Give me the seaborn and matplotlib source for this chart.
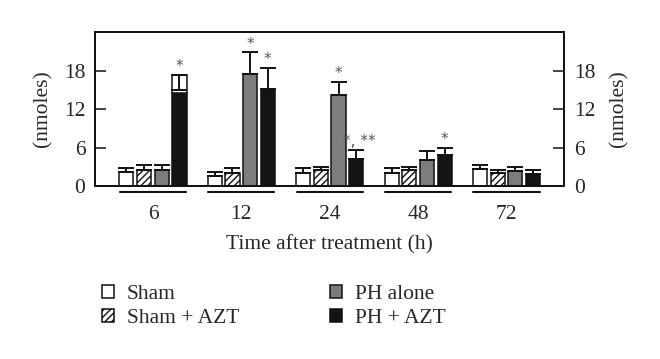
import numpy as np
import pandas as pd
import seaborn as sns
import matplotlib.pyplot as plt
from matplotlib.patches import Patch

# Data
TIMES = ["6", "12", "24", "48", "72"]
GROUPS = ["Sham", "Sham + AZT", "PH alone", "PH + AZT"]

sham = [2.15, 1.5, 2.1, 2.1, 2.6]
sham_err = [0.65, 0.65, 0.65, 0.65, 0.7]
sham_azt = [2.45, 2.05, 2.45, 2.45, 2.1]
sham_azt_err = [0.75, 0.75, 0.55, 0.55, 0.4]
ph_alone = [2.45, 17.55, 14.15, 4.05, 2.4]
ph_alone_err = [0.85, 3.35, 2.1, 1.4, 0.55]
ph_azt = [14.5, 15.1, 4.25, 4.85, 1.9]
ph_azt_err = [0.0, 3.35, 1.4, 1.1, 0.6]

# 6 h PH + AZT: open box drawn up to 17.4 with a downward bar to 15.0
ph_azt_6h_top = 17.4
ph_azt_6h_low = 15.0

# significance marks: (time index, group index, label)
SIG_MARKS = [(0, 3, "*"), (1, 2, "*"), (1, 3, "*"), (2, 2, "*"),
             (2, 3, "*, **"), (3, 3, "*")]

means = [sham, sham_azt, ph_alone, ph_azt]
errs = [sham_err, sham_azt_err, ph_alone_err, ph_azt_err]

df = pd.DataFrame({
    "time": np.tile(TIMES, len(GROUPS)),
    "group": np.repeat(GROUPS, len(TIMES)),
    "value": np.concatenate(means),
})

sns.set_style("white")
plt.rcParams["font.family"] = ["Liberation Serif", "DejaVu Serif"]
plt.rcParams["hatch.linewidth"] = 1.0

FS = 15.5
fill_colors = ["white", "white", "#7d7d7d", "#141414"]

fig = plt.figure(figsize=(6.6, 3.59), dpi=100)
ax = fig.add_axes([0.144, 0.482, 0.7105, 0.43])

sns.barplot(data=df, x="time", y="value", hue="group", order=TIMES,
            hue_order=GROUPS, palette=fill_colors, errorbar=None,
            width=0.8, gap=0.2, saturation=1, legend=False, ax=ax,
            edgecolor="#111111", linewidth=1.1)

bars = list(ax.containers)
for k, cont in enumerate(bars):
    for p in cont.patches:
        if k == 1:
            p.set_hatch("/////")
    xs = np.array([p.get_x() + p.get_width() / 2 for p in cont.patches])
    m = np.array(means[k])
    e = np.array(errs[k])
    keep = e > 0
    ax.errorbar(xs[keep], m[keep], yerr=[np.zeros(keep.sum()), e[keep]],
                fmt="none", ecolor="#111111", elinewidth=1.4, capsize=6,
                capthick=1.4, zorder=3)

# open top of 6 h PH + AZT bar
p0 = bars[3].patches[0]
ax.bar(p0.get_x() + p0.get_width() / 2, ph_azt_6h_top - ph_azt[0],
       bottom=ph_azt[0], width=p0.get_width(), color="white",
       edgecolor="#111111", linewidth=1.1, zorder=2)
ax.errorbar(p0.get_x() + p0.get_width() / 2, ph_azt_6h_top,
            yerr=[[ph_azt_6h_top - ph_azt_6h_low], [0]], fmt="none",
            ecolor="#111111", elinewidth=1.4, capsize=6, capthick=1.4,
            zorder=3)

# significance asterisks
for ti, gi, lab in SIG_MARKS:
    p = bars[gi].patches[ti]
    top = means[gi][ti] + errs[gi][ti]
    if ti == 0 and gi == 3:
        top = ph_azt_6h_top
    ax.text(p.get_x() + p.get_width() / 2 + (0.03 if len(lab) > 1 else 0),
            top + 1.25, lab, ha="center", va="center", fontsize=11,
            color="#555555", family="DejaVu Sans")

ax.set_xlim(-0.655, 4.65)
ax.set_ylim(0, 24.1)
ax.set_yticks([0, 6, 12, 18])
ax.set_xlabel("Time after treatment (h)", fontsize=FS, labelpad=8)
ax.set_ylabel("(nmoles)", fontsize=FS, labelpad=8)
ax.tick_params(axis="y", direction="in", length=8, width=1.2,
               labelsize=FS, pad=7, left=True)
ax.tick_params(axis="x", length=0, labelsize=FS, pad=14)
for s in ax.spines.values():
    s.set_linewidth(1.3)
    s.set_color("#111111")

# underline each time group below the axis
for i in range(len(TIMES)):
    ax.plot([i - 0.375, i + 0.375], [-0.04, -0.04], color="#111111",
            lw=1.5, transform=ax.get_xaxis_transform(), clip_on=False)

ax2 = ax.twinx()
ax2.set_ylim(ax.get_ylim())
ax2.set_yticks([0, 6, 12, 18])
ax2.tick_params(axis="y", direction="in", length=8, width=1.2,
                labelsize=FS, pad=7, right=True)
ax2.set_ylabel("(nmoles)", fontsize=FS, labelpad=10)
for s in ax2.spines.values():
    s.set_linewidth(1.3)
    s.set_color("#111111")

handles = [Patch(facecolor=c, edgecolor="#111111", linewidth=1.1,
                 hatch="/////" if i == 1 else None)
           for i, c in enumerate(fill_colors)]
fig.legend(handles, GROUPS, loc="upper left", bbox_to_anchor=(0.155, 0.206),
           ncol=2, frameon=False, fontsize=FS, handlelength=0.55,
           handleheight=0.55, handletextpad=0.6, columnspacing=4.23,
           labelspacing=0.24, borderpad=0, borderaxespad=0)

fig.savefig("out.png", dpi=100)
